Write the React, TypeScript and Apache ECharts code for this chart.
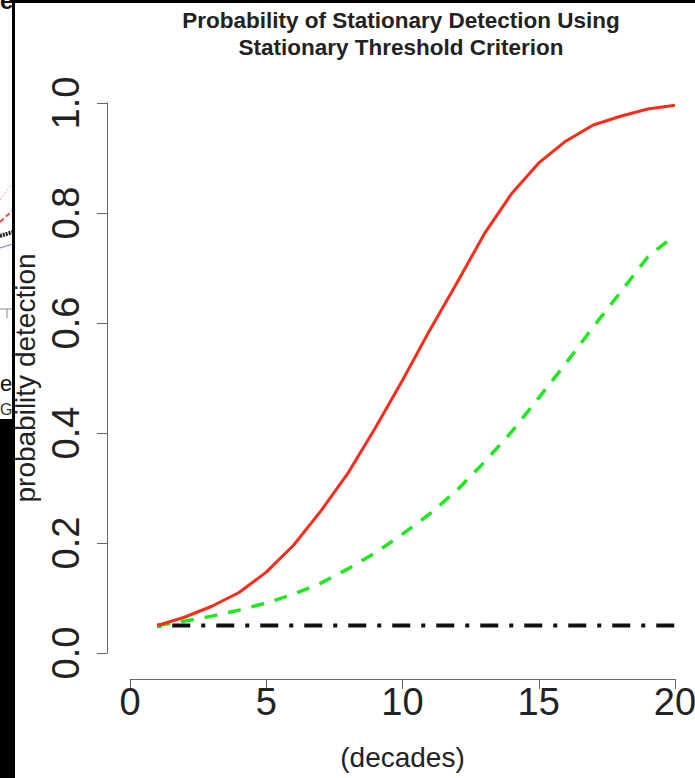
import React, { useEffect, useRef } from "react";
import * as echarts from "echarts";

const decades = [1, 2, 3, 4, 5, 6, 7, 8, 9, 10, 11, 12, 13, 14, 15, 16, 17, 18, 19, 20];
const stationaryCriterion = [0.05, 0.065, 0.085, 0.11, 0.147, 0.196, 0.258, 0.327, 0.409, 0.496, 0.587, 0.673, 0.762, 0.835, 0.891, 0.931, 0.96, 0.976, 0.989, 0.996];
const alternativeCriterion = [0.05, 0.058, 0.067, 0.078, 0.091, 0.107, 0.127, 0.153, 0.182, 0.216, 0.253, 0.296, 0.347, 0.402, 0.464, 0.527, 0.593, 0.656, 0.72, 0.76];
const nominalLevel = [0.05, 0.05, 0.05, 0.05, 0.05, 0.05, 0.05, 0.05, 0.05, 0.05, 0.05, 0.05, 0.05, 0.05, 0.05, 0.05, 0.05, 0.05, 0.05, 0.05];

const titleLines = ["Probability of Stationary Detection Using", "Stationary Threshold Criterion"];
const xAxisTitle = "(decades)";
const yAxisTitle = "probability detection";

const pairs = (ys: number[]) => decades.map((d, i) => [d, ys[i]]);

export default function App() {
  const ref = useRef<HTMLDivElement>(null);
  useEffect(() => {
    if (!ref.current) return;
    const chart = echarts.init(ref.current, null, { renderer: "svg" });
    const font = "'Liberation Sans', Arial, Helvetica, sans-serif";
    chart.setOption({
      animation: false,
      backgroundColor: "#ffffff",
      textStyle: { fontFamily: font },
      title: {
        text: titleLines.join("\n"),
        left: 396,
        top: 2,
        textAlign: "center",
        textStyle: { fontFamily: font, fontSize: 22.5, fontWeight: "bold", color: "#222", lineHeight: 27 },
      },
      grid: { left: 130, right: 20, top: 103, bottom: 125, containLabel: false, outerBoundsMode: "none" },
      xAxis: {
        type: "value",
        min: 0,
        max: 20,
        interval: 5,
        offset: 26,
        name: xAxisTitle,
        nameLocation: "middle",
        nameGap: 64,
        nameTextStyle: { fontFamily: font, fontSize: 28, color: "#222" },
        splitLine: { show: false },
        axisLine: { show: true, onZero: false, lineStyle: { color: "#666", width: 1 } },
        axisTick: { show: true, length: 10, lineStyle: { color: "#666", width: 1 } },
        axisLabel: { fontFamily: font, fontSize: 38, color: "#222", margin: 4 },
      },
      yAxis: {
        type: "value",
        min: 0,
        max: 1,
        interval: 0.2,
        offset: 23,
        name: yAxisTitle,
        nameLocation: "middle",
        nameRotate: 90,
        nameGap: 64,
        nameTextStyle: { fontFamily: font, fontSize: 28, color: "#222" },
        splitLine: { show: false },
        axisLine: { show: true, onZero: false, lineStyle: { color: "#666", width: 1 } },
        axisTick: { show: true, length: 10, lineStyle: { color: "#666", width: 1 } },
        axisLabel: {
          fontFamily: font,
          fontSize: 38,
          color: "#222",
          rotate: 90,
          margin: 22,
          formatter: (v: number) => v.toFixed(1),
        },
      },
      series: [
        {
          type: "line",
          data: pairs(stationaryCriterion),
          showSymbol: false,
          lineStyle: { color: "#ff2a1a", width: 3 },
          z: 3,
        },
        {
          type: "line",
          data: pairs(alternativeCriterion),
          showSymbol: false,
          lineStyle: { color: "#1ee81e", width: 3.5, type: [13, 11], cap: "butt" },
          z: 2,
        },
        {
          type: "line",
          data: pairs(nominalLevel),
          showSymbol: false,
          lineStyle: { color: "#111", width: 4, type: [4, 11, 18, 11], cap: "butt" },
          z: 1,
        },
      ],
      graphic: [
        { type: "text", left: 0, top: -12, z: 1, style: { text: "e", fontSize: 24, fontFamily: font, fill: "#111", fontWeight: "bold" } },
        { type: "text", left: 0, top: 372, z: 1, style: { text: "e", fontSize: 22, fontFamily: font, fill: "#111" } },
        { type: "text", left: 0, top: 401, z: 1, style: { text: "G", fontSize: 16, fontFamily: font, fill: "#333" } },
        { type: "line", z: 1, shape: { x1: 0, y1: 309, x2: 13, y2: 309 }, style: { stroke: "#888", lineWidth: 1 } },
        { type: "line", z: 1, shape: { x1: 7, y1: 309, x2: 7, y2: 318 }, style: { stroke: "#888", lineWidth: 1 } },
        { type: "line", z: 1, shape: { x1: 0, y1: 236, x2: 13, y2: 232 }, style: { stroke: "#222", lineWidth: 4, lineDash: [2, 1] } },
        { type: "line", z: 1, shape: { x1: 0, y1: 248, x2: 13, y2: 244 }, style: { stroke: "#6a6aff", lineWidth: 1 } },
        { type: "line", z: 1, shape: { x1: 0, y1: 222, x2: 13, y2: 210 }, style: { stroke: "#ff4444", lineWidth: 2, lineDash: [5, 3] } },
        { type: "line", z: 1, shape: { x1: 0, y1: 200, x2: 13, y2: 182 }, style: { stroke: "#ff9999", lineWidth: 1, lineDash: [2, 2] } },
        { type: "rect", z: 10, shape: { x: 12, y: 0, width: 3, height: 420 }, style: { fill: "#000" } },
        { type: "rect", z: 10, shape: { x: 12, y: 0, width: 683, height: 3 }, style: { fill: "#000" } },
        { type: "rect", z: 10, shape: { x: 0, y: 419, width: 15, height: 359 }, style: { fill: "#000" } },
      ],
    });
    return () => chart.dispose();
  }, []);
  return (
    <div
      ref={ref}
      style={{ position: "absolute", left: 0, top: 0, width: 695, height: 778, background: "#fff" }}
    />
  );
}
